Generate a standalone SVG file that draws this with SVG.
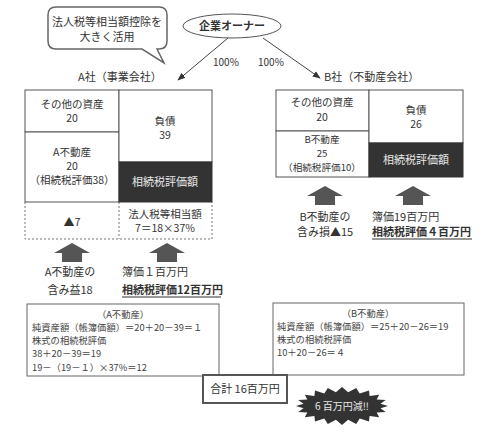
<svg xmlns="http://www.w3.org/2000/svg" width="500" height="436" viewBox="0 0 500 436">
<defs>
<style>
text{font-family:"Noto Sans CJK JP","Noto Sans",sans-serif;fill:#333;}
.t11{font-size:11px;}
.tb{font-size:10.5px;}
.t10{font-size:10px;}
.t95{font-size:9.6px;}
.t9{font-size:9.3px;fill:#444;}
.c{text-anchor:middle;}
.cell{fill:#fff;stroke:#555;stroke-width:1;}
.dark{fill:#333;stroke:#333;}
.wt{fill:#e8e8e8;}
.dash{fill:none;stroke:#777;stroke-width:1;stroke-dasharray:2,2;}
.blk{fill:#555;}
.conn{stroke:#444;stroke-width:1;fill:none;marker-end:url(#ah);}
.box{fill:#fff;stroke:#666;stroke-width:1;}
</style>
<marker id="ah" viewBox="0 0 10 10" refX="9" refY="5" markerWidth="8" markerHeight="8" orient="auto" markerUnits="userSpaceOnUse">
<path d="M0,1 L10,5 L0,9 Z" fill="#333"/>
</marker>
</defs>
<rect width="500" height="436" fill="#fff"/>

<g id="bubble">
<path d="M56,7 H159 Q167,7 167,15 V41 Q167,49 159,49 H157 L164,63 L142,49 H56 Q48,49 48,41 V15 Q48,7 56,7 Z" fill="#fff" stroke="#666" stroke-width="1.5"/>
<text class="t11 c" x="107" y="26">法人税等相当額控除を</text>
<text class="t11 c" x="107" y="41">大きく活用</text>
</g>

<g id="owner">
<ellipse cx="232" cy="26" rx="49" ry="12" fill="#fff" stroke="#555" stroke-width="1"/>
<text class="t11 c" x="232" y="30" font-weight="bold">企業オーナー</text>
</g>

<g id="connectors">
<line class="conn" x1="228" y1="38" x2="178" y2="80"/>
<line class="conn" x1="263" y1="38" x2="320" y2="78"/>
<text class="t10" x="213" y="66">100%</text>
<text class="t10" x="258" y="66">100%</text>
</g>

<g id="companyA">
<text class="t11" x="78" y="81">A社（事業会社）</text>
<rect class="cell" x="25" y="90" width="94" height="42"/>
<rect class="cell" x="25" y="132" width="94" height="70"/>
<rect class="cell" x="119" y="90" width="93" height="72"/>
<rect class="dark" x="119" y="162" width="93" height="40"/>
<path class="dash" d="M25,202 V239 H212 V202 M119,202 V239"/>
<text class="tb c" x="72" y="108">その他の資産</text>
<text class="tb c" x="72" y="122">20</text>
<text class="tb c" x="72" y="156">A不動産</text>
<text class="tb c" x="72" y="170">20</text>
<text class="tb c" x="72" y="184">（相続税評価38）</text>
<text class="tb c" x="165" y="125">負債</text>
<text class="tb c" x="165" y="139">39</text>
<text class="t11 c wt" x="165" y="186">相続税評価額</text>
<text class="t11 c" x="72" y="226">▲7</text>
<text class="tb c" x="165" y="218">法人税等相当額</text>
<text class="tb c" x="165" y="232">7＝18×37%</text>
</g>

<g id="companyB">
<text class="t11" x="324" y="81">B社（不動産会社）</text>
<rect class="cell" x="276" y="90" width="93" height="41"/>
<rect class="cell" x="276" y="131" width="93" height="46"/>
<rect class="cell" x="369" y="90" width="94" height="53"/>
<rect class="dark" x="369" y="143" width="94" height="34"/>
<text class="tb c" x="322" y="106">その他の資産</text>
<text class="tb c" x="322" y="121">20</text>
<text class="t95 c" x="322" y="143">B不動産</text>
<text class="t95 c" x="322" y="157">25</text>
<text class="t95 c" x="322" y="171">（相続税評価10）</text>
<text class="tb c" x="416" y="114">負債</text>
<text class="tb c" x="416" y="128">26</text>
<text class="t11 c wt" x="416" y="164">相続税評価額</text>
</g>

<g id="arrowsA">
<path class="blk" d="M72,243 L90,253 L82,253 L82,262 L62,262 L62,253 L54,253 Z"/>
<path class="blk" d="M167,243 L185,253 L177,253 L177,262 L157,262 L157,253 L149,253 Z"/>
<text class="t11 c" x="70" y="276">A不動産の</text>
<text class="t11 c" x="70" y="294">含み益18</text>
<text class="t11" x="122" y="276">簿価１百万円</text>
<text class="t11" x="122" y="294" font-weight="bold">相続税評価12百万円</text>
<line x1="122" y1="297" x2="221" y2="297" stroke="#333" stroke-width="1"/>
</g>

<g id="arrowsB">
<path class="blk" d="M325,186 L343,196 L335,196 L335,205 L315,205 L315,196 L307,196 Z"/>
<path class="blk" d="M413,186 L431,196 L423,196 L423,205 L403,205 L403,196 L395,196 Z"/>
<text class="t11 c" x="325" y="221">B不動産の</text>
<text class="t11 c" x="325" y="236">含み損▲15</text>
<text class="t11" x="372" y="221">簿価19百万円</text>
<text class="t11" x="372" y="236" font-weight="bold">相続税評価４百万円</text>
<line x1="372" y1="239" x2="472" y2="239" stroke="#333" stroke-width="1"/>
</g>

<g id="calcA">
<rect class="box" x="27" y="304" width="192" height="72"/>
<text class="t9 c" x="123" y="318">（A不動産）</text>
<text class="t9" x="32" y="331">純資産額（帳簿価額）＝20＋20－39＝１</text>
<text class="t9" x="32" y="344">株式の相続税評価</text>
<text class="t9" x="32" y="357">38＋20－39＝19</text>
<text class="t9" x="32" y="371">19－（19－１）×37%＝12</text>
</g>

<g id="calcB">
<rect class="box" x="273" y="303" width="191" height="72"/>
<text class="t9 c" x="368" y="317">（B不動産）</text>
<text class="t9" x="277" y="330">純資産額（帳簿価額）＝25＋20－26＝19</text>
<text class="t9" x="277" y="343">株式の相続税評価</text>
<text class="t9" x="277" y="356">10＋20－26＝４</text>
</g>

<g id="total">
<rect x="203" y="375" width="84" height="28" fill="#fff" stroke="#555" stroke-width="2"/>
<text class="t11 c" x="245" y="393">合計 16百万円</text>
</g>

<g id="burst">
<polygon fill="#333" points="388,406 380.5,408.2 385.7,411.9 376.7,412.4 379.2,417.2 369.6,415.9 369,421.4 359.7,418.5 356.2,424.1 348.1,419.8 342,425 335.9,419.8 327.8,424.1 324.3,418.5 315,421.4 314.4,415.9 304.8,417.2 307.3,412.4 298.3,411.9 303.5,408.2 296,406 303.5,403.8 298.3,400.1 307.3,399.6 304.8,394.8 314.4,396.1 315,390.6 324.3,393.5 327.8,387.9 335.9,392.2 342,387 348.1,392.2 356.2,387.9 359.7,393.5 369,390.6 369.6,396.1 379.2,394.8 376.7,399.6 385.7,400.1 380.5,403.8"/>
<text class="t10 c wt" x="342" y="410">6 百万円減‼</text>
</g>
</svg>
